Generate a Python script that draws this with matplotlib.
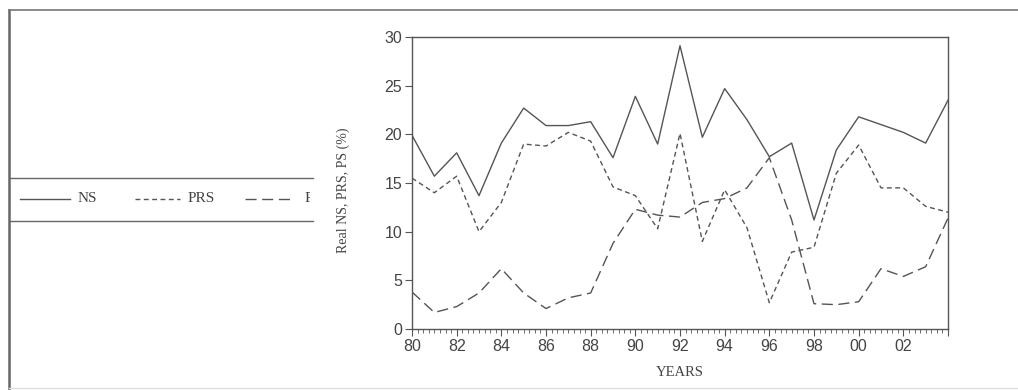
import matplotlib
matplotlib.use("Agg")
import matplotlib.pyplot as plt
from matplotlib.lines import Line2D
from matplotlib.ticker import MultipleLocator, FuncFormatter
from matplotlib.transforms import Bbox

# data (1980-2004)
years = list(range(1980, 2005))
ns = [19.9, 15.7, 18.1, 13.7, 19.1, 22.7, 20.9, 20.9, 21.3, 17.6, 23.9, 19.0, 29.1,
      19.7, 24.7, 21.5, 17.7, 19.1, 11.2, 18.4, 21.8, 21.0, 20.2, 19.1, 23.5]
prs = [15.5, 14.0, 15.7, 10.0, 13.0, 19.0, 18.8, 20.2, 19.3, 14.6, 13.7, 10.3, 20.1,
       9.0, 14.3, 10.4, 2.7, 7.9, 8.4, 16.0, 18.9, 14.5, 14.5, 12.6, 12.0]
ps = [3.8, 1.7, 2.3, 3.7, 6.2, 3.7, 2.1, 3.2, 3.7, 8.8, 12.3, 11.7, 11.5,
      13.0, 13.4, 14.5, 17.6, 11.2, 2.6, 2.5, 2.8, 6.2, 5.4, 6.4, 11.4]
series_names = ["NS", "PRS", "PS"]

line_col = "#555555"
text_col = "#444444"
serif = ["Liberation Serif", "DejaVu Serif"]
sans = ["Liberation Sans", "DejaVu Sans"]

W, H = 1018, 390
fig = plt.figure(figsize=(W / 100, H / 100), dpi=100)
fig.patch.set_facecolor("white")

ax = fig.add_axes([412 / W, (H - 329) / H, 536 / W, 292 / H])

styles = [dict(linestyle="-"),
          dict(linestyle=(0, (3.5, 2.5))),
          dict(linestyle=(0, (8, 4)))]
for vals, st in zip([ns, prs, ps], styles):
    ax.plot(years, vals, color=line_col, linewidth=1.0, **st)

ax.set_xlim(1980, 2004)
ax.set_ylim(0, 30)
ax.xaxis.set_major_locator(MultipleLocator(2))
ax.xaxis.set_minor_locator(MultipleLocator(0.25))
ax.yaxis.set_major_locator(MultipleLocator(5))
ax.xaxis.set_major_formatter(FuncFormatter(
    lambda v, p: "" if int(round(v)) >= 2004 else "%02d" % (int(round(v)) % 100)))
ax.tick_params(axis="both", direction="out", colors=line_col, labelcolor=text_col,
               labelsize=11.5, width=0.8)
ax.tick_params(axis="x", which="major", length=5, pad=2)
ax.tick_params(axis="x", which="minor", length=3, width=0.6, colors=line_col)
ax.tick_params(axis="y", length=5, pad=2)
for lab in ax.get_xticklabels() + ax.get_yticklabels():
    lab.set_family(sans)
for sp in ax.spines.values():
    sp.set_color(line_col)
    sp.set_linewidth(1.0)

ax.set_xlabel("YEARS", family=serif, fontsize=10.5, color=text_col, labelpad=9)
fig.text(343 / W, 1 - 190 / H, "Real NS, PRS, PS (%)", rotation=90, family=serif,
         fontsize=10, color=text_col, ha="center", va="center")

# outer frame of the scan
fig.add_artist(Line2D([9 / W, 9 / W], [0, 1 - 10 / H], color="#666666", linewidth=1.8))
fig.add_artist(Line2D([9 / W, 1], [1 - 10 / H, 1 - 10 / H], color="#777777", linewidth=1.2))
fig.add_artist(Line2D([9 / W, 1], [2 / H, 2 / H], color="#dddddd", linewidth=1.0))

# legend box, cut off at the right
for yy in (178, 221):
    fig.add_artist(Line2D([10 / W, 313 / W], [1 - yy / H, 1 - yy / H],
                          color="#666666", linewidth=1.0))
ly = 1 - 199 / H
leg_lines = [(20, 70), (135, 180), (245, 292)]
leg_text_x = [78, 188, 305]
clip = Bbox.from_extents(0, 0, 310, H)
for (x0, x1), tx, name, st in zip(leg_lines, leg_text_x, series_names, styles):
    fig.add_artist(Line2D([x0 / W, x1 / W], [ly, ly], color=line_col, linewidth=1.0, **st))
    t = fig.text(tx / W, ly, name, family=serif, fontsize=11, color=text_col,
                 ha="left", va="center")
    t.set_clip_on(True)
    t.set_clip_box(clip)

fig.savefig("out.png", dpi=100, facecolor="white")
